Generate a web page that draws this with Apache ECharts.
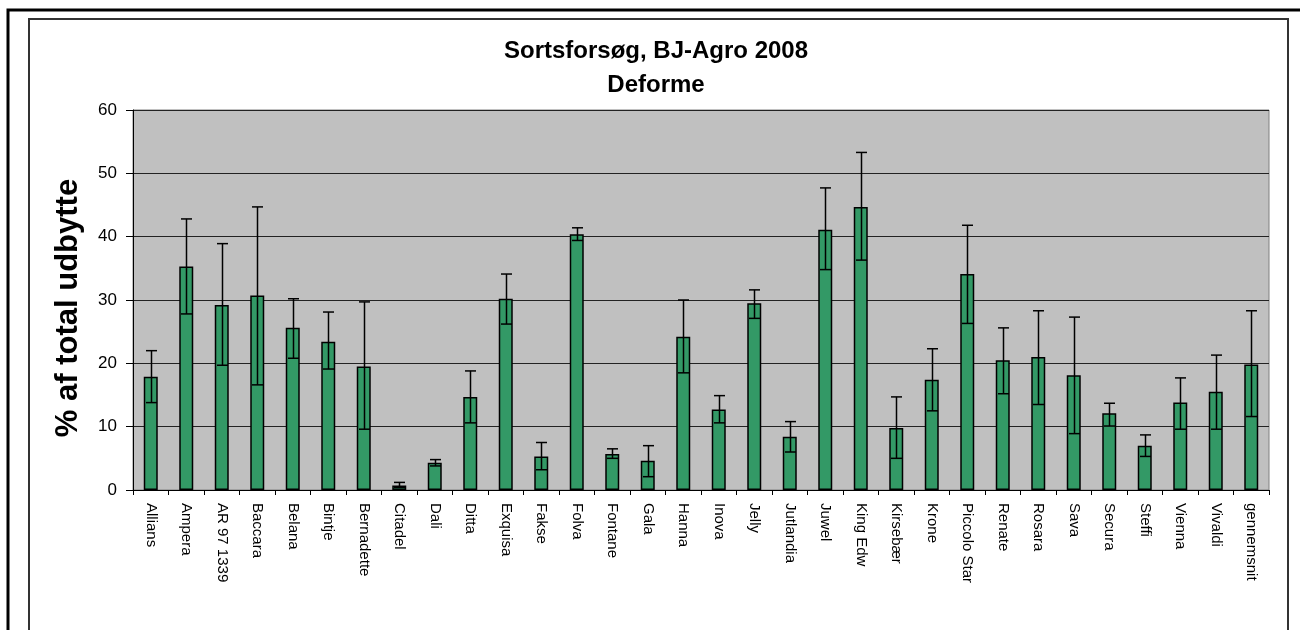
<!DOCTYPE html>
<html>
<head>
<meta charset="utf-8">
<script src="https://cdn.jsdelivr.net/npm/echarts@6/dist/echarts.min.js"></script>
<style>
html,body{margin:0;padding:0;background:#fff;}
#chart{width:1300px;height:630px;}
</style>
</head>
<body>
<div id="chart"></div>
<script>
const categories = ["Allians","Ampera","AR 97 1339","Baccara","Belana","Bintje","Bernadette","Citadel","Dali","Ditta","Exquisa","Fakse","Folva","Fontane","Gala","Hanna","Inova","Jelly","Jutlandia","Juwel","King Edw","Kirsebær","Krone","Piccolo Star","Renate","Rosara","Sava","Secura","Steffi","Vienna","Vivaldi","gennemsnit"];
const values   = [17.9,35.3,29.2,30.7,25.6,23.4,19.5,0.7,4.3,14.7,30.2,5.3,40.4,5.7,4.6,24.2,12.7,29.5,8.4,41.1,44.7,9.8,17.4,34.1,20.5,21.0,18.1,12.1,7.0,13.8,15.5,19.8];
const errHigh  = [22.0,42.8,38.9,44.7,30.2,28.1,29.7,1.2,4.8,18.8,34.1,7.5,41.4,6.5,7.0,30.0,14.9,31.6,10.8,47.7,53.3,14.7,22.3,41.8,25.6,28.3,27.3,13.7,8.7,17.7,21.3,28.3];
const errLow   = [13.8,27.8,19.7,16.6,20.8,19.1,9.6,0.4,3.8,10.6,26.2,3.2,39.4,5.0,2.1,18.5,10.6,27.1,6.0,34.8,36.3,5.0,12.5,26.3,15.2,13.5,8.9,10.1,5.3,9.6,9.6,11.6];
const yTicks = [0,10,20,30,40,50,60];
const titleText = 'Sortsforsøg, BJ-Agro 2008\nDeforme';
const yAxisTitle = '% af total udbytte';

const chart = echarts.init(document.getElementById('chart'), null, {renderer:'canvas'});
const errData = categories.map((c,i)=>[i, errLow[i], errHigh[i]]);
const FONT = 'Liberation Sans, Arial, sans-serif';

chart.setOption({
  animation:false,
  backgroundColor:'#ffffff',
  graphic:[
    {type:'rect', shape:{x:8,y:10,width:1310,height:700}, style:{fill:'none',stroke:'#000',lineWidth:3}, silent:true, z:-10},
    {type:'rect', shape:{x:29,y:19,width:1259,height:700}, style:{fill:'none',stroke:'#333',lineWidth:2}, silent:true, z:-10},
    {type:'text', x:68, y:308, rotation:Math.PI/2, silent:true,
     style:{text:yAxisTitle, fontFamily:FONT, fontSize:31, fontWeight:'bold', fill:'#000', align:'center', verticalAlign:'middle'}}
  ],
  title:{
    text:titleText,
    left:651, top:29, textAlign:'center',
    textStyle:{fontFamily:FONT,fontSize:24,fontWeight:'bold',color:'#000',lineHeight:34}
  },
  grid:{left:133,right:31,top:110,bottom:140,show:true,backgroundColor:'#C0C0C0',borderColor:'#808080',borderWidth:1},
  xAxis:{
    type:'category', data:categories,
    axisLine:{lineStyle:{color:'#000',width:1}},
    axisTick:{show:true,alignWithLabel:false,length:5,lineStyle:{color:'#000'}},
    axisLabel:{rotate:-90,interval:0,margin:13,fontFamily:FONT,fontSize:15,color:'#000'},
    splitLine:{show:false}
  },
  yAxis:{
    type:'value', min:0, max:60, interval:10,
    axisLine:{show:true,lineStyle:{color:'#000',width:1}},
    axisTick:{show:true,length:7,lineStyle:{color:'#000'}},
    axisLabel:{margin:16,fontFamily:FONT,fontSize:17,color:'#000',
      formatter:v=>yTicks.includes(v)?String(v):''},
    splitLine:{show:true,lineStyle:{color:'#222',width:1}}
  },
  series:[
    {type:'bar', data:values, barWidth:14,
     itemStyle:{color:'#339966',borderColor:'#000',borderWidth:1.5}, z:2},
    {type:'custom', data:errData, z:3,
     renderItem:function(params, api){
       const x = api.value(0);
       const lo = api.coord([x, api.value(1)]);
       const hi = api.coord([x, api.value(2)]);
       const cx = Math.round(lo[0])+0.5;
       const hw = 5.5;
       const st = {stroke:'#000', lineWidth:1.5};
       return {type:'group', children:[
         {type:'line', shape:{x1:cx,y1:hi[1],x2:cx,y2:lo[1]}, style:st},
         {type:'line', shape:{x1:cx-hw,y1:hi[1],x2:cx+hw,y2:hi[1]}, style:st},
         {type:'line', shape:{x1:cx-hw,y1:lo[1],x2:cx+hw,y2:lo[1]}, style:st}
       ]};
     }}
  ]
});
</script>
</body>
</html>
